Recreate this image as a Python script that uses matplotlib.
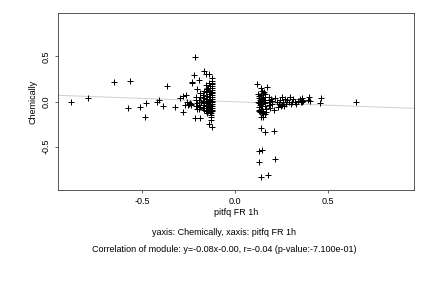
import matplotlib
matplotlib.use("Agg")
import matplotlib.pyplot as plt

plt.rcParams['font.family'] = ['Liberation Sans', 'DejaVu Sans']

# scatter data (pitfq FR 1h, Chemically)
x_vals = [
    -0.884, -0.792, -0.652, -0.566, -0.577, -0.512, -0.485, -0.480, -0.422, -0.410,
    -0.388, -0.366, -0.323, -0.296, -0.280, -0.282, -0.265, -0.270, -0.260,
    -0.125, -0.124, -0.126, -0.123, -0.127, -0.125, -0.124, -0.126, -0.125, -0.123,
    -0.127, -0.124, -0.126, -0.125, -0.123, -0.127, -0.124, -0.126, -0.125, -0.128,
    -0.130, -0.132, -0.128, -0.125,
    -0.140, -0.142, -0.138, -0.145, -0.140, -0.143, -0.137, -0.141, -0.139, -0.144,
    -0.138, -0.142, -0.140, -0.145, -0.136, -0.140,
    -0.158, -0.155, -0.152, -0.157, -0.154, -0.156, -0.153, -0.158, -0.155, -0.152,
    -0.157, -0.150,
    -0.167, -0.170, -0.172, -0.168, -0.173, -0.170, -0.166, -0.172, -0.169,
    -0.197, -0.190, -0.188, -0.193, -0.186, -0.192, -0.188, -0.195, -0.188,
    -0.214, -0.222, -0.206, -0.210, -0.213, -0.207, -0.212, -0.208, -0.215,
    -0.235, -0.232, -0.240, -0.245, -0.238, -0.250, -0.255,
    0.120, 0.138, 0.170, 0.125, 0.130, 0.127, 0.132, 0.125, 0.128, 0.133, 0.126,
    0.130, 0.135, 0.127,
    0.145, 0.148, 0.142, 0.150, 0.146, 0.143, 0.149, 0.144, 0.147, 0.142, 0.150,
    0.138, 0.150, 0.145,
    0.158, 0.162, 0.160, 0.157, 0.163, 0.159, 0.161, 0.165, 0.160, 0.168,
    0.180, 0.185, 0.190, 0.182, 0.195, 0.200, 0.188, 0.210, 0.200,
    0.215, 0.225, 0.235, 0.240, 0.250, 0.255, 0.260, 0.270, 0.275, 0.280, 0.290,
    0.295, 0.305, 0.310, 0.320, 0.330, 0.340, 0.350, 0.355, 0.360, 0.362, 0.358,
    0.365, 0.400, 0.402, 0.390, 0.460, 0.455, 0.649,
    0.138, 0.160, 0.208, 0.130, 0.145, 0.130, 0.216, 0.140, 0.178,
    0.230, 0.245, 0.265, 0.300,
]
y_vals = [
    -0.006, 0.035, 0.217, 0.228, -0.072, -0.061, -0.172, -0.017, -0.004, 0.018,
    -0.054, 0.172, -0.061, 0.044, 0.063, -0.117, 0.070, -0.040, 0.000,
    0.26, 0.23, 0.21, 0.19, 0.17, 0.15, 0.13, 0.11, 0.09, 0.07,
    0.05, 0.03, 0.01, -0.01, -0.03, -0.05, -0.07, -0.09, -0.11, -0.13,
    -0.15, -0.17, -0.20, -0.28,
    0.31, 0.20, 0.17, 0.15, 0.12, 0.08, 0.05, 0.02, 0.00, -0.02,
    -0.04, -0.06, -0.08, -0.10, -0.12, -0.25,
    0.30, 0.18, 0.14, 0.10, 0.06, 0.03, 0.00, -0.02, -0.05, -0.07,
    -0.10, -0.13,
    0.34, 0.12, 0.07, 0.04, 0.01, -0.02, -0.04, -0.07, -0.09,
    0.24, 0.09, 0.05, 0.02, -0.01, -0.04, -0.06, -0.08, -0.185,
    0.49, 0.29, 0.14, 0.05, 0.02, -0.02, -0.05, -0.08, -0.185,
    0.22, 0.20, -0.03, -0.02, -0.04, -0.03, -0.04,
    0.198, 0.15, 0.16, 0.08, 0.06, 0.04, 0.02, 0.00, -0.02, -0.04, -0.06,
    -0.09, -0.12, -0.10,
    0.12, 0.09, 0.07, 0.05, 0.03, 0.01, -0.01, -0.03, -0.05, -0.08, -0.11,
    -0.17, -0.17, -0.13,
    0.11, 0.08, 0.05, 0.02, 0.00, -0.02, -0.05, -0.08, -0.14, -0.12,
    0.05, 0.02, -0.01, -0.04, 0.03, -0.03, -0.07, -0.09, 0.01,
    0.04, 0.00, -0.03, 0.02, -0.04, 0.05, 0.00, 0.03, -0.03, 0.02, 0.00,
    0.05, -0.01, 0.03, 0.00, -0.03, 0.01, 0.03, 0.00, 0.02, 0.04, -0.01,
    0.01, 0.05, 0.01, 0.02, 0.04, -0.02, 0.00,
    -0.29, -0.34, -0.33, -0.547, -0.536, -0.672, -0.64, -0.839, -0.81,
    -0.06, -0.05, -0.05, -0.03,
]
fit_slope = -0.075
fit_intercept = -0.003
x_ticks = [-0.5, 0.0, 0.5]
y_ticks = [-0.5, 0.0, 0.5]
x_label = "pitfq FR 1h"
y_label = "Chemically"
sub1 = "yaxis: Chemically, xaxis: pitfq FR 1h"
sub2 = "Correlation of module: y=-0.08x-0.00, r=-0.04 (p-value:-7.100e-01)"

FS = 9

fig = plt.figure(figsize=(6, 4), dpi=72)
ax = fig.add_axes([0.134, 0.340, 0.824, 0.615])
xlim = (-0.955, 0.963)
ax.set_xlim(*xlim)
ax.set_ylim(-0.98, 0.98)

ax.plot(xlim, [fit_intercept + fit_slope * v for v in xlim], color='#d0d0d0', lw=1.0, zorder=1)
ax.plot(x_vals, y_vals, linestyle='none', marker='+', markersize=5.5,
        markeredgewidth=1.0, color='black', zorder=2)

ax.set_xticks(x_ticks)
ax.set_xticklabels([f"{v:.1f}" for v in x_ticks])
ax.set_yticks(y_ticks)
ax.set_yticklabels([f"{v:.1f}" for v in y_ticks], rotation=90, va='center')
ax.tick_params(direction='out', length=3, width=0.6, labelsize=FS, colors='black', pad=4)
for s in ax.spines.values():
    s.set_linewidth(0.8)
    s.set_color('#333333')

ax.set_xlabel(x_label, fontsize=FS, labelpad=2)
ax.set_ylabel(y_label, fontsize=FS, labelpad=4)

fig.text(0.519, 0.194, sub1, ha='center', va='center', fontsize=FS)
fig.text(0.519, 0.135, sub2, ha='center', va='center', fontsize=FS)

fig.savefig("out.png", dpi=72)
